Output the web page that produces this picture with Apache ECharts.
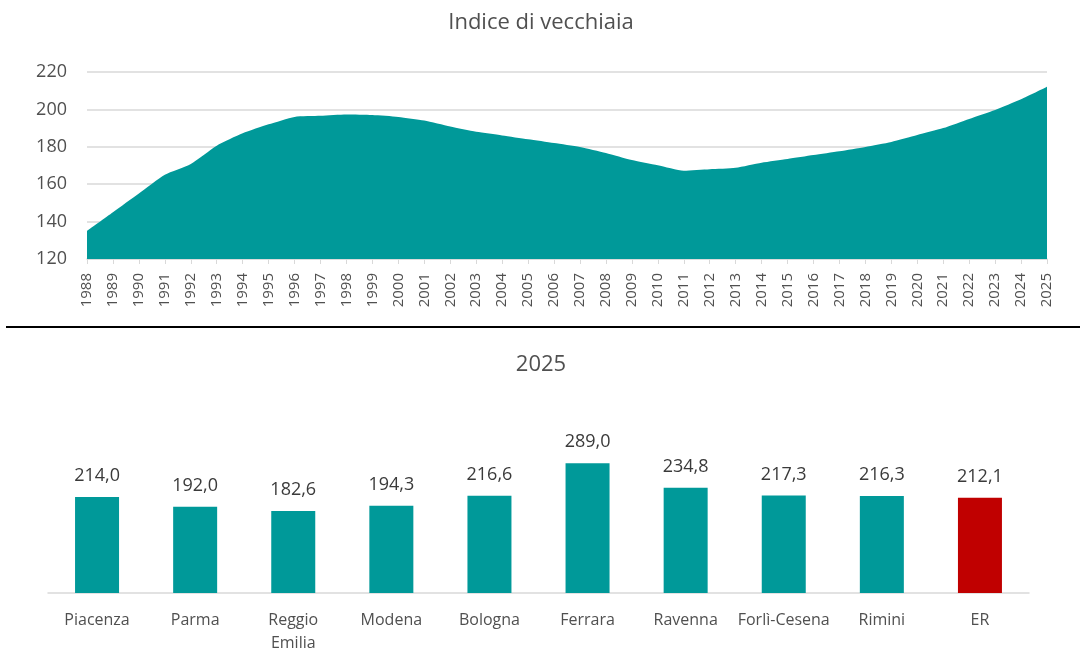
<!DOCTYPE html>
<html>
<head>
<meta charset="utf-8">
<script src="https://cdn.jsdelivr.net/npm/echarts@6/dist/echarts.min.js"></script>
<style>
  html, body { margin: 0; padding: 0; background: #fff; }
  #chart { width: 1082px; height: 648px; }
</style>
</head>
<body>
<div id="chart"></div>
<script>
// anni e indice di vecchiaia regionale
const anni = ['1988','1989','1990','1991','1992','1993','1994','1995','1996','1997','1998','1999',
  '2000','2001','2002','2003','2004','2005','2006','2007','2008','2009','2010','2011','2012',
  '2013','2014','2015','2016','2017','2018','2019','2020','2021','2022','2023','2024','2025']
const indice = [135.0, 145.0, 155.0, 165.0, 170.8, 180.6, 187.2, 192.0, 196.0, 196.6, 197.3, 197.0,
  196.0, 194.0, 190.8, 188.0, 186.1, 184.0, 182.0, 179.9, 176.7, 172.9, 170.1, 167.2, 168.0,
  168.8, 171.5, 173.5, 175.6, 177.6, 179.9, 182.6, 186.3, 190.0, 194.9, 199.7, 205.4, 212.1]
const yTicks = [120, 140, 160, 180, 200, 220]

// province 2025
const province = ['Piacenza', 'Parma', 'Reggio\nEmilia', 'Modena', 'Bologna', 'Ferrara',
  'Ravenna', 'Forlì-Cesena', 'Rimini', 'ER']
const valori2025 = [214.0, 192.0, 182.6, 194.3, 216.6, 289.0, 234.8, 217.3, 216.3, 212.1]

const verde = '#009999'
const rosso = '#C00000'
const grigio = '#505050'
const font = '"Open Sans", sans-serif'

let chart = echarts.init(document.getElementById('chart'))

let option = {
    backgroundColor: '#fff',
    animation: false,
    textStyle: { fontFamily: font },
    title: [
        {
            text: 'Indice di vecchiaia',
            left: 'center', top: 7,
            textStyle: { fontSize: 22, fontWeight: 'normal', color: grigio, fontFamily: font }
        },
        {
            text: '2025',
            left: 'center', top: 349,
            textStyle: { fontSize: 22, fontWeight: 'normal', color: grigio, fontFamily: font }
        }
    ],
    graphic: [
        {
            type: 'line',
            shape: { x1: 6, y1: 327, x2: 1080, y2: 327 },
            style: { stroke: '#000', lineWidth: 2 }
        }
    ],
    grid: [
        { left: 87, right: 35, top: 72, bottom: 389, outerBoundsMode: 'none' },
        { left: 48, right: 53, top: 436, bottom: 55, outerBoundsMode: 'none' }
    ],
    xAxis: [
        {
            gridIndex: 0,
            type: 'category',
            data: anni,
            boundaryGap: false,
            axisLine: { lineStyle: { color: '#d9d9d9', width: 1.5 } },
            axisTick: { show: true, length: 5, lineStyle: { color: '#d9d9d9' } },
            axisLabel: { rotate: 90, interval: 0, fontSize: 15, color: grigio, margin: 14 }
        },
        {
            gridIndex: 1,
            type: 'category',
            data: province,
            axisLine: { lineStyle: { color: '#d9d9d9', width: 1.5 } },
            axisTick: { show: false },
            axisLabel: { interval: 0, fontSize: 16, color: grigio, margin: 16, lineHeight: 23 }
        }
    ],
    yAxis: [
        {
            gridIndex: 0,
            type: 'value',
            min: yTicks[0], max: yTicks[yTicks.length - 1], interval: 20,
            axisLine: { show: false },
            axisTick: { show: false },
            axisLabel: { fontSize: 18, color: grigio, margin: 20 },
            splitLine: { lineStyle: { color: '#d9d9d9', width: 1.5 } }
        },
        {
            gridIndex: 1,
            type: 'value',
            min: 0, max: 350,
            show: false,
            splitLine: { show: false }
        }
    ],
    series: [
        {
            type: 'line',
            xAxisIndex: 0, yAxisIndex: 0,
            data: indice,
            smooth: 0.2,
            symbol: 'none',
            lineStyle: { width: 0 },
            areaStyle: { color: verde, opacity: 1, origin: 'start' }
        },
        {
            type: 'bar',
            xAxisIndex: 1, yAxisIndex: 1,
            barWidth: 44,
            data: valori2025.map((v, i) => ({
                value: v,
                itemStyle: { color: province[i] == 'ER' ? rosso : verde }
            })),
            label: {
                show: true,
                position: 'top',
                distance: 12,
                fontSize: 18,
                color: '#3a3a3a',
                formatter: p => p.value.toFixed(1).replace('.', ',')
            }
        }
    ]
}

chart.setOption(option)
</script>
</body>
</html>
